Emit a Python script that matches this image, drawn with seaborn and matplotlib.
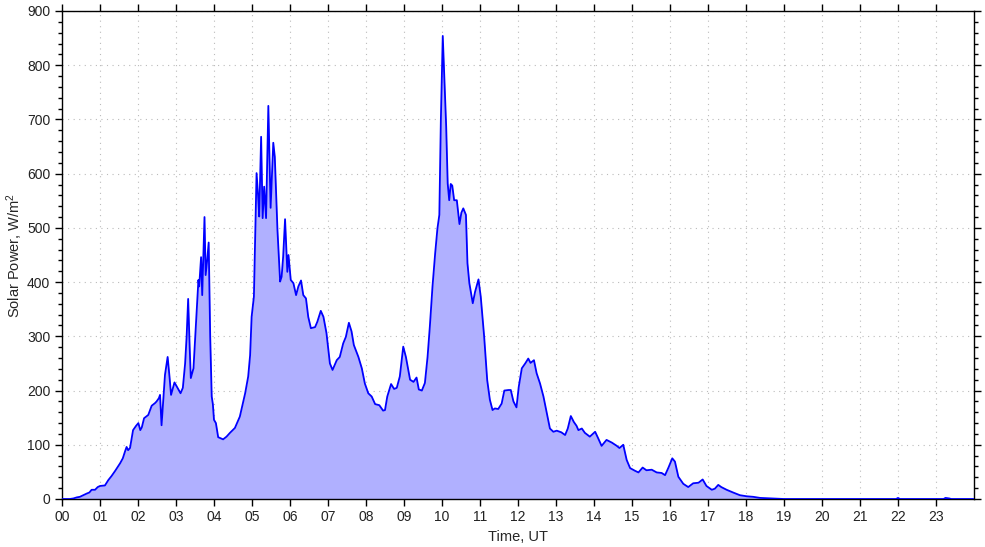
import numpy as np
import pandas as pd
import matplotlib
matplotlib.use("Agg")
import matplotlib.pyplot as plt
from matplotlib.ticker import MultipleLocator
import seaborn as sns

hours = [0.00, 0.20, 0.30, 0.39, 0.47, 0.56, 0.65, 0.72, 0.78, 0.87, 0.94, 1.00, 1.13, 1.22, 1.30, 1.40,
         1.53, 1.60, 1.66, 1.70, 1.74, 1.79, 1.87, 1.95, 2.01, 2.06, 2.10, 2.16, 2.27, 2.36, 2.45, 2.49,
         2.55, 2.58, 2.62, 2.71, 2.78, 2.83, 2.87, 2.96, 3.04, 3.12, 3.18, 3.24, 3.28, 3.32, 3.36, 3.39,
         3.46, 3.53, 3.59, 3.61, 3.66, 3.69, 3.75, 3.78, 3.82, 3.86, 3.90, 3.94, 3.97, 4.00, 4.05, 4.11,
         4.24, 4.33, 4.42, 4.55, 4.68, 4.82, 4.90, 4.95, 4.99, 5.05, 5.12, 5.16, 5.19, 5.24, 5.28, 5.32,
         5.37, 5.43, 5.49, 5.56, 5.60, 5.67, 5.74, 5.78, 5.82, 5.87, 5.93, 5.96, 6.02, 6.09, 6.16, 6.22,
         6.29, 6.35, 6.42, 6.48, 6.55, 6.66, 6.72, 6.81, 6.88, 6.96, 7.05, 7.12, 7.23, 7.31, 7.40, 7.47,
         7.55, 7.62, 7.68, 7.80, 7.89, 7.97, 8.06, 8.15, 8.24, 8.35, 8.45, 8.50, 8.56, 8.66, 8.74, 8.81,
         8.89, 8.98, 9.05, 9.16, 9.25, 9.33, 9.39, 9.47, 9.55, 9.62, 9.68, 9.75, 9.82, 9.88, 9.93, 9.97,
         10.02, 10.06, 10.11, 10.15, 10.19, 10.23, 10.27, 10.32, 10.39, 10.46, 10.51, 10.56, 10.63, 10.67,
         10.72, 10.81, 10.87, 10.96, 11.02, 11.11, 11.19, 11.26, 11.33, 11.39, 11.48, 11.57, 11.64, 11.75,
         11.81, 11.88, 11.96, 12.02, 12.10, 12.19, 12.27, 12.33, 12.42, 12.49, 12.58, 12.67, 12.75, 12.84,
         12.93, 13.02, 13.14, 13.24, 13.31, 13.39, 13.47, 13.54, 13.59, 13.68, 13.76, 13.89, 14.03, 14.11,
         14.20, 14.33, 14.47, 14.60, 14.67, 14.77, 14.86, 14.95, 15.08, 15.17, 15.28, 15.38, 15.52, 15.65,
         15.78, 15.87, 15.96, 16.06, 16.13, 16.22, 16.35, 16.48, 16.61, 16.75, 16.86, 16.96, 17.10, 17.18,
         17.27, 17.35, 17.49, 17.66, 17.84, 18.02, 18.19, 18.37, 18.68, 19.00, 21.95, 22.00, 22.05, 23.20,
         23.25, 23.35, 23.40, 24.00]

power = [0, 0, 1, 3, 4, 7, 10, 12, 17, 17, 22, 24, 25, 35, 42, 52,
         66, 75, 88, 96, 90, 94, 127, 135, 140, 127, 132, 149, 155, 172, 177, 180,
         186, 192, 136, 229, 262, 225, 192, 215, 205, 195, 205, 250, 300, 369, 280, 223,
         241, 330, 404, 392, 446, 376, 520, 413, 440, 473, 300, 189, 175, 146, 140, 114,
         110, 115, 122, 131, 152, 195, 226, 265, 336, 373, 601, 560, 521, 668, 518, 576,
         518, 725, 537, 657, 631, 496, 401, 410, 447, 516, 419, 450, 404, 398, 376, 392,
         403, 376, 370, 336, 315, 317, 327, 347, 336, 306, 250, 238, 256, 262, 287, 299,
         325, 309, 284, 262, 241, 213, 195, 189, 175, 173, 163, 164, 189, 212, 203, 205,
         226, 281, 262, 220, 216, 224, 202, 200, 214, 262, 318, 392, 453, 499, 524, 699,
         854, 779, 687, 582, 551, 581, 578, 551, 551, 507, 528, 536, 524, 435,
         398, 361, 382, 405, 373, 299, 219, 183, 164, 167, 166, 176, 200, 201,
         201, 180, 169, 207, 241, 250, 259, 251, 256, 232, 213, 189, 161, 130,
         124, 126, 123, 118, 130, 153, 142, 135, 127, 130, 122, 115, 124, 112,
         98, 109, 104, 98, 94, 100, 72, 57, 52, 49, 58, 53, 54, 49,
         48, 44, 58, 75, 69, 41, 28, 22, 29, 30, 36, 24, 17, 19,
         26, 22, 17, 12, 7, 5, 4, 2, 1, 0, 0, 2, 0, 0,
         2, 1, 0, 0]

tick_hours = list(range(24))
tick_labels = [f"{h:02d}" for h in tick_hours]

df = pd.DataFrame({"hour": hours, "power": power})

sns.set_style("ticks")
plt.rcParams['font.family'] = ['Liberation Sans', 'DejaVu Sans']
plt.rcParams['mathtext.default'] = 'regular'

fig = plt.figure(figsize=(9.85, 5.47), dpi=100)
ax = fig.add_axes([62/985, 1-499/547, (974-62)/985, (499-11)/547])

ax.fill_between(df["hour"], 0, df["power"], color="#b0b0ff", linewidth=0, zorder=2)
sns.lineplot(data=df, x="hour", y="power", color="#0000ff", linewidth=1.3, ax=ax, zorder=3,
             estimator=None, sort=False)

ax.set_xlim(0, 24)
ax.set_ylim(0, 900)
ax.set_xticks(tick_hours)
ax.set_xticklabels(tick_labels)
ax.yaxis.set_major_locator(MultipleLocator(100))
ax.yaxis.set_minor_locator(MultipleLocator(20))
ax.tick_params(axis="both", which="both", direction="out", colors="black", labelsize=10,
               top=True, right=True, labelcolor="#222222")
ax.tick_params(axis="both", which="major", length=5, width=1)
ax.tick_params(axis="y", which="minor", length=3, width=1)
ax.tick_params(axis="x", which="major", pad=3)

for s in ax.spines.values():
    s.set_visible(True)
    s.set_color("black")
    s.set_linewidth(1)

ax.grid(True, which="major", linestyle=(0, (1, 4)), color="#bbbbbb", linewidth=0.8, zorder=1)
ax.set_axisbelow(True)

ax.set_xlabel("Time, UT", fontsize=10.5, labelpad=4)
ax.set_ylabel("Solar Power, W/m$^2$", fontsize=10.5, labelpad=1)

fig.savefig("out.png", dpi=100)
